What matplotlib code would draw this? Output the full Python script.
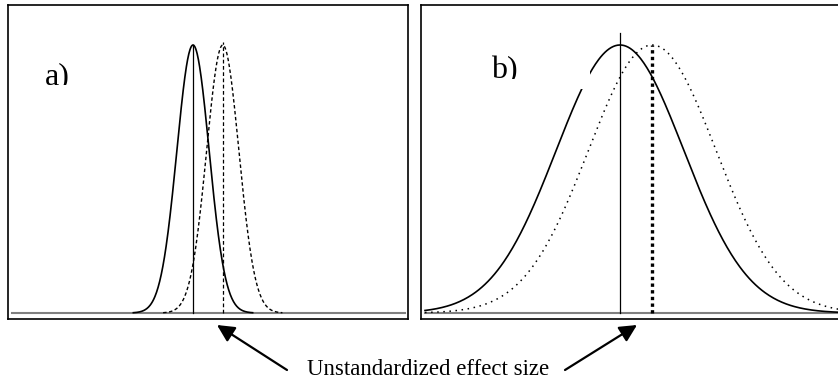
import numpy as np
import matplotlib
matplotlib.use("Agg")
import matplotlib.pyplot as plt
from matplotlib.patches import Rectangle, FancyArrowPatch
from matplotlib.transforms import Bbox

plt.rcParams['font.family'] = ['Liberation Serif', 'DejaVu Serif']

# distributions (effect size units)
means_a = [0.0, 0.48]     # solid, dotted
sd_a = 0.26
means_b = [0.0, 0.52]
sd_b = 1.03
panel_labels = ["a)", "b)"]
xlabel = "Unstandardized effect size"

W, H = 838, 382
PX = 62.0  # pixels per effect-size unit

fig = plt.figure(figsize=(W / 100, H / 100), dpi=100)


def add_panel(left, right, center):
    # left/right in pixels, center = pixel position of effect 0
    top, bottom = 5, 319
    ax = fig.add_axes([left / W, (H - bottom) / H, (right - left) / W, (bottom - top) / H])
    ax.set_xlim((left - center) / PX, (right - center) / PX)
    ax.set_ylim(-6 / 268, 308 / 268)
    ax.set_xticks([])
    ax.set_yticks([])
    for s in ax.spines.values():
        s.set_linewidth(1.2)
        s.set_color('black')
    return ax


def pdf(x, m, s):
    return np.exp(-0.5 * ((x - m) / s) ** 2)


# panel a
ax_a = add_panel(8, 408, 193)
x0, x1 = ax_a.get_xlim()
ax_a.plot([x0 + 4 / PX, x1 - 3 / PX], [0, 0], color='#808080', lw=1.5, zorder=1)
xa = np.linspace(means_a[0] - 3.7 * sd_a, means_a[0] + 3.7 * sd_a, 300)
ax_a.plot(xa, pdf(xa, means_a[0], sd_a), color='black', lw=1.2, zorder=3)
xa2 = np.linspace(means_a[1] - 3.7 * sd_a, means_a[1] + 3.7 * sd_a, 300)
ax_a.plot(xa2, pdf(xa2, means_a[1], sd_a), color='black', lw=1.0,
          linestyle=(0, (2.5, 1.8)), zorder=3)
ax_a.plot([means_a[0], means_a[0]], [0, 1], color='black', lw=0.9, zorder=2)
ax_a.plot([means_a[1], means_a[1]], [0, 1.01], color='black', lw=0.9,
          linestyle=(0, (3, 2)), zorder=2)

# panel b
ax_b = add_panel(421, 845, 620)
x0, x1 = ax_b.get_xlim()
ax_b.plot([x0 + 4 / PX, x1], [0, 0], color='#808080', lw=1.5, zorder=1)
xb = np.linspace(x0 + 4 / PX, x1, 400)
ax_b.plot(xb, pdf(xb, means_b[0], sd_b), color='black', lw=1.2, zorder=3)
ax_b.plot(xb, pdf(xb, means_b[1], sd_b), color='black', lw=1.1,
          linestyle=(0, (1, 3)), zorder=3)
ax_b.plot([means_b[0], means_b[0]], [0, 1.045], color='black', lw=0.9, zorder=2)
ax_b.plot([means_b[1], means_b[1]], [0, 1.0], color='black', lw=2.4,
          linestyle=(0, (1, 1)), zorder=2)

# white label box that hides part of curve b
fig.add_artist(Rectangle((475 / W, (H - 89) / H), 115 / W, 44 / H,
                         transform=fig.transFigure, facecolor='white',
                         edgecolor='none', zorder=5))

# panel labels, bottoms cut off as in the source
for lab, (px, py, clip) in zip(panel_labels, [(45, 84, 84.5), (491, 78, 78.5)]):
    t = fig.text(px / W, (H - py) / H, lab, fontsize=23, ha='left',
                 va='baseline', zorder=6)
    bb = Bbox([[px - 5, H - clip], [px + 70, H - py + 45]])
    t.set_clip_box(bb)
    t.set_clip_on(True)

# bottom label and arrows
fig.text(428 / W, (H - 375) / H, xlabel, fontsize=16.5, ha='center', va='baseline')
for tail, tip in [((287, 370), (217, 325)), ((565, 370), (637, 325))]:
    fig.add_artist(FancyArrowPatch(
        (tail[0] / W, (H - tail[1]) / H), (tip[0] / W, (H - tip[1]) / H),
        transform=fig.transFigure, arrowstyle='-|>', mutation_scale=26,
        lw=1.6, color='black', shrinkA=0, shrinkB=0))

fig.savefig("out.png", dpi=100)
